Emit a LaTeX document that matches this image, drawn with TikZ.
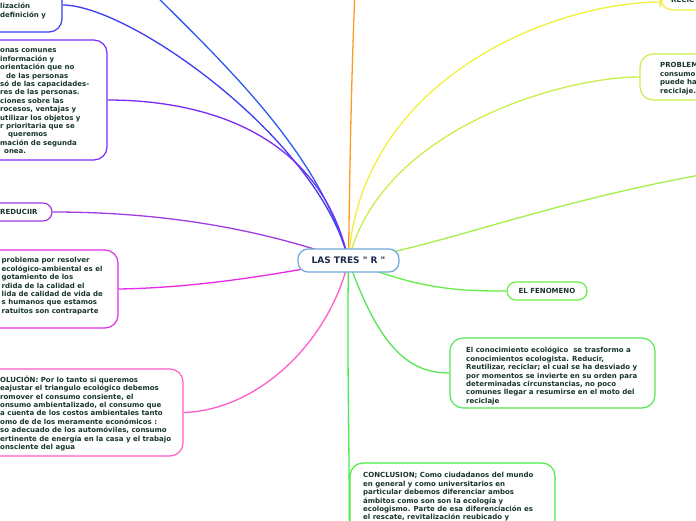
\documentclass[tikz,border=0pt]{standalone}
\usepackage{fontspec}
\setmainfont{DejaVu Sans}
\newfontfamily\cfont{DejaVu Sans}
\usetikzlibrary{backgrounds}
\definecolor{tcol}{HTML}{173628}
\definecolor{ccol}{HTML}{1C2A4A}
\definecolor{cTL}{HTML}{3B3BF0}
\definecolor{cTB}{HTML}{2A5BEF}
\definecolor{cPU}{HTML}{7A2BF5}
\definecolor{cRE}{HTML}{A23BE0}
\definecolor{cMA}{HTML}{E22BE2}
\definecolor{cPI}{HTML}{FF5CCB}
\definecolor{cOR}{HTML}{FF9A1F}
\definecolor{cYE}{HTML}{F2F03C}
\definecolor{cPB}{HTML}{C9F04A}
\definecolor{cLI}{HTML}{A4F04A}
\definecolor{cFE}{HTML}{66EE44}
\definecolor{cCO}{HTML}{55E655}
\definecolor{cCL}{HTML}{44EE44}
\definecolor{cCE}{HTML}{6FA8DC}
\newcommand\Tstr{\rule{0pt}{6pt}}
\begin{document}
\begin{tikzpicture}[x=1pt,y=-1pt,
  box/.style={draw, line width=1.2pt, rounded corners=13pt, fill=white, inner sep=0pt},
  conn/.style={line width=1.3pt},
  txt/.style={inner sep=0pt, align=left, anchor=north west, text=tcol, font=\bfseries\fontsize{7}{8.4}\selectfont},
  lbl/.style={text=tcol, font=\bfseries\fontsize{7}{8.4}\selectfont}]
\useasboundingbox (0,0) rectangle (696,520);
\clip (0,0) rectangle (696,520);

% boxes
\node[box, draw=cTL, minimum width=212pt, minimum height=54pt] (tl) at (-44,5) {};
\node[txt] (tlt) at (0,2.6) {\Tstr lización\\definición y};

\node[box, draw=cPU, minimum width=257pt, minimum height=120pt] (pu) at (-21.5,100) {};
\node[txt] (put) at (0,46.6) {\Tstr onas comunes\\información y\\orientación que no\\\hspace*{6pt}de las personas\\só de las capacidades-\\res de las personas.\\ciones sobre las\\rocesos, ventajas y\\utilizar los objetos y\\r prioritaria que se\\\hspace*{8pt}queremos\\mación de segunda\\\hspace*{4pt}onea.};

\node[box, draw=cRE, rounded corners=9pt, minimum width=132pt, minimum height=18pt] (re) at (-14,212) {};
\node[lbl, inner sep=0pt, anchor=west] (ret) at (0,212) {REDUCIIR};

\node[box, draw=cMA, minimum width=268pt, minimum height=78pt] (ma) at (-16,289) {};
\node[txt] (mat) at (1.5,256.6) {\Tstr problema por resolver\\ecológico-ambiental es el\\gotamiento de los\\rdida de la calidad el\\lida de calidad de vida de\\s humanos que estamos\\ratuitos son contraparte};

\node[box, draw=cPI, minimum width=283pt, minimum height=87pt] (pi) at (41.5,412.5) {};
\node[txt] (pit) at (0,375.6) {\Tstr OLUCIÓN: Por lo tanto si queremos\\eajustar el triangulo ecológico debemos\\romover el consumo consiente, el\\onsumo ambientalizado, el consumo que\\a cuenta de los costos ambientales tanto\\omo de de los meramente económicos :\\so adecuado de los automóviles, consumo\\ertinente de energía en la casa y el trabajo\\onsciente del agua};

\node[box, draw=cYE, minimum width=100pt, minimum height=16pt] (rc) at (710,2) {};
\node[lbl, inner sep=0pt, anchor=base west] (rct) at (671,2) {RECIC};

\node[box, draw=cPB, minimum width=160pt, minimum height=46pt] (pb) at (720,77) {};
\node[txt] (pbt) at (660,61.6) {\Tstr PROBLEM\\consumo\\puede ha\\reciclaje.};

\node[box, draw=cFE, rounded corners=9pt, minimum width=80pt, minimum height=18pt, lbl] (fe) at (547,291) {EL FENOMENO};

\node[box, draw=cCO, minimum width=205pt, minimum height=70pt] (co) at (552.5,373) {};
\node[txt] (cot) at (466,346.6) {\Tstr El conocimiento ecológico~ se trasformo a\\conocimientos ecologista. Reducir,\\Reutilizar, reciclar; el cual se ha desviado y\\por momentos se invierte en su orden para\\determinadas circunstancias, no poco\\comunes llegar a resumirse en el moto del\\reciclaje};

\node[box, draw=cCL, minimum width=205pt, minimum height=117pt] (cl) at (452.5,521.5) {};
\node[txt] (clt) at (363,471.6) {\Tstr CONCLUSION; Como ciudadanos del mundo\\en general y como universitarios en\\particular debemos diferenciar ambos\\ámbitos como son son la ecología y\\ecologismo. Parte de esa diferenciación es\\el rescate, revitalización reubicado y};

% centre
\node[box, draw=cCE, rounded corners=10pt, minimum width=101pt, minimum height=23pt, text=ccol, font=\cfont\bfseries\fontsize{9}{10}\selectfont] (c) at (348.5,260.5) {LAS TRES " R "};

\coordinate (tb) at (130,-30);
\coordinate (to) at (356,-30);
\coordinate (rg) at (760,165);

\begin{scope}[on background layer]
\fill[white] (0,0) rectangle (696,520);
\draw[conn, cTL] (c.center) .. controls (320,140) and (130,5) .. (tl.east);
\draw[conn, cTB] (c.center) .. controls (320,150) and (220,60) .. (tb);
\draw[conn, cPU] (c.center) .. controls (320,130) and (200,100) .. (pu.east);
\draw[conn, cRE] (c.center) .. controls (250,225) and (150,212) .. (re.east);
\draw[conn, cMA] (c.center) .. controls (250,280) and (180,288) .. (ma.east);
\draw[conn, cPI] (c.center) .. controls (330,340) and (260,410) .. (pi.east);
\draw[conn, cOR] (c.center) .. controls (350,150) and (352,50) .. (to);
\draw[conn, cYE] (c.center) .. controls (360,80) and (550,3) .. (rc.west);
\draw[conn, cPB] (c.center) .. controls (380,130) and (560,77) .. (pb.west);
\draw[conn, cLI] (c.center) .. controls (450,245) and (560,195) .. (rg);
\draw[conn, cFE] (c.center) .. controls (420,290) and (460,291) .. (fe.west);
\draw[conn, cCO] (c.center) .. controls (380,350) and (410,373) .. (co.west);
\draw[conn, cCL] (c.center) .. controls (347,350) and (349,420) .. (cl.west);
\end{scope}
\end{tikzpicture}
\end{document}
